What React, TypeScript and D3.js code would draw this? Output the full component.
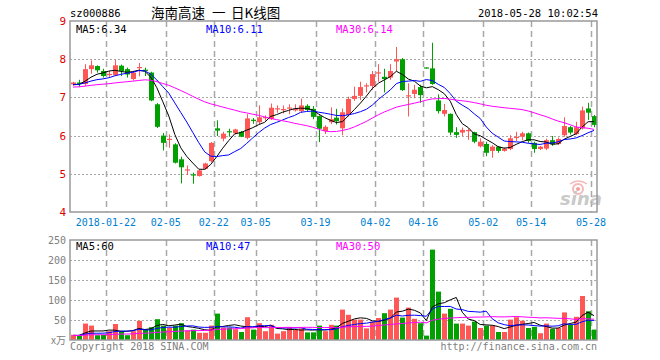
import React from "react";
import * as d3 from "d3";

const dates = [
  "01-12","01-15","01-16","01-17","01-18","01-19","01-22","01-23","01-24","01-25","01-26","01-29","01-30","01-31",
  "02-01","02-02","02-05","02-06","02-07","02-08","02-09","02-12","02-13","02-14","02-22","02-23","02-26","02-27","02-28",
  "03-01","03-02","03-05","03-06","03-07","03-08","03-09","03-12","03-13","03-14","03-15","03-16","03-19","03-20","03-21","03-22","03-23","03-26","03-27","03-28","03-29","03-30",
  "04-02","04-03","04-04","04-09","04-10","04-11","04-12","04-13","04-16","04-17","04-18","04-19","04-20","04-23","04-24","04-25","04-26","04-27",
  "05-02","05-03","05-04","05-07","05-08","05-09","05-10","05-11","05-14","05-15","05-16","05-17","05-18","05-21","05-22","05-23","05-24","05-25","05-28",
];

const open = [
  7.34,7.39,7.35,7.74,7.82,7.69,7.58,7.58,7.83,7.74,7.48,7.76,7.71,7.65,
  6.82,6.00,5.88,5.77,5.38,5.07,4.97,4.94,5.13,5.33,6.19,5.92,6.10,6.06,6.10,
  5.94,6.40,6.35,6.45,6.43,6.68,6.65,6.69,6.66,6.64,6.78,6.70,6.51,6.12,6.35,6.47,6.19,6.54,6.96,7.04,7.28,7.30,
  7.62,7.54,7.52,7.94,8.00,7.02,7.09,7.27,7.77,7.76,6.92,6.57,6.57,6.09,6.08,6.11,6.09,5.72,
  5.78,5.60,5.71,5.60,5.65,5.93,5.97,6.06,5.81,5.65,5.66,5.88,5.78,6.01,6.22,6.04,6.19,6.71,6.51,
];
const high = [
  7.41,7.46,7.87,7.97,7.84,7.75,7.69,7.98,7.86,7.78,7.69,7.90,7.78,7.67,
  6.85,6.07,6.03,5.80,5.45,5.22,5.03,5.11,5.29,5.83,6.40,6.10,6.18,6.18,6.12,
  6.56,6.46,6.79,6.53,6.84,6.79,6.79,6.82,6.82,6.97,6.82,6.77,6.53,6.27,6.74,6.70,6.71,7.02,7.28,7.41,7.37,7.69,
  7.87,7.75,7.87,8.32,8.03,7.37,7.33,7.33,7.78,8.43,7.08,6.83,6.58,6.22,6.21,6.19,6.10,5.93,
  5.84,5.75,5.73,5.69,6.01,6.10,6.10,6.08,5.84,5.73,5.92,5.99,5.95,6.48,6.25,6.36,6.76,6.86,6.54,
];
const low = [
  7.31,7.27,7.30,7.62,7.65,7.52,7.54,7.56,7.56,7.52,7.44,7.55,7.56,6.90,
  6.20,5.61,5.68,5.27,4.75,4.97,4.74,4.93,5.11,5.30,5.99,5.85,5.97,6.03,5.96,
  5.90,6.31,6.30,6.39,6.41,6.60,6.58,6.56,6.63,6.60,6.62,6.43,5.83,6.04,6.30,6.29,6.01,6.50,6.91,6.93,7.13,7.20,
  7.41,7.13,7.46,7.68,7.17,6.50,6.98,6.86,7.75,7.33,6.58,6.50,6.01,5.94,5.99,5.89,5.80,5.69,
  5.46,5.42,5.55,5.58,5.62,5.86,5.88,5.81,5.55,5.62,5.62,5.73,5.75,5.97,6.03,6.01,6.16,6.41,6.22,
];
const close = [
  7.39,7.35,7.74,7.84,7.71,7.56,7.60,7.84,7.69,7.60,7.65,7.78,7.69,6.92,
  6.23,5.81,5.90,5.29,5.17,5.10,4.95,5.09,5.27,5.81,6.13,6.05,6.08,6.16,5.97,
  6.45,6.37,6.48,6.47,6.73,6.70,6.68,6.72,6.70,6.79,6.67,6.49,6.18,6.23,6.43,6.38,6.61,6.96,7.04,7.27,7.30,7.61,
  7.64,7.48,7.69,8.00,7.19,7.04,7.20,7.06,7.76,7.35,6.64,6.67,6.08,6.02,6.15,6.13,5.84,5.84,
  5.55,5.71,5.60,5.66,5.93,5.95,6.06,5.86,5.65,5.71,5.88,5.77,5.91,6.25,6.08,6.22,6.66,6.60,6.28,
];
const volume = [
  13,11,41,36,12,13,22,40,22,12,22,48,27,32,
  52,36,31,36,42,24,26,18,18,36,66,31,31,27,20,
  57,26,42,22,38,16,22,31,26,29,19,19,36,22,38,36,76,63,51,51,29,46,
  55,67,76,106,56,81,53,42,11,226,121,66,78,41,41,36,46,30,
  36,36,20,20,51,57,48,30,33,17,41,28,30,69,38,58,110,72,26,
];
// closes / volumes of the trading days before the first visible day (for the moving averages)
const priorCloses = [
  7.15,7.18,7.22,7.20,7.17,7.21,7.24,7.19,7.16,7.20,7.23,7.20,
  7.26,7.30,7.28,7.32,7.29,7.31,7.27,7.32,
  7.33,7.37,7.36,7.34,7.35,
  7.30,7.33,7.31,7.32,
];
const priorVolumes = [
  10,12,9,11,13,10,12,11,9,10,12,14,11,10,9,12,11,13,10,11,12,10,11,13,12,10,11,12,11,
];

const tickDates = ["01-22","02-05","02-22","03-05","03-19","04-02","04-16","05-02","05-14","05-28"];
const tickLabels = ["2018-01-22","02-05","02-22","03-05","03-19","04-02","04-16","05-02","05-14","05-28"];
const priceTicks = [9, 8, 7, 6, 5, 4];
const volTicks = [250, 200, 150, 100, 50];
const maPeriods = [5, 10, 30];
const maColors = ["#000000", "#0000ff", "#ff00ff"];
const priceMaLabels = ["MA5:6.34", "MA10:6.11", "MA30:6.14"];
const volMaLabels = ["MA5:60", "MA10:47", "MA30:50"];

const RED = "#ff5656";
const GREEN = "#00a000";
const MONO = "'DejaVu Sans Mono', 'Liberation Mono', monospace";
const CJK = "'Noto Sans CJK SC', sans-serif";

function movingAvg(prior: number[], vals: number[], n: number): number[] {
  const all = prior.concat(vals);
  const off = prior.length;
  return vals.map((_, i) => d3.mean(all.slice(off + i - n + 1, off + i + 1)) as number);
}

export default function App() {
  const L = 70, R = 597;
  const mTop = 21, mBot = 212;
  const vTop = 240, vBot = 340;

  const x = d3.scaleBand<string>().domain(dates).range([L, R]).paddingInner(0).paddingOuter(0);
  const bw = x.bandwidth();
  const cx = (d: string) => (x(d) as number) + bw / 2;
  const y = d3.scaleLinear().domain([4, 9]).range([mBot, mTop]);
  const yv = d3.scaleLinear().domain([0, 250]).range([vBot, vTop]);

  const bodyW = 5;
  const candles = dates.map((d, i) => {
    const up = close[i] >= open[i];
    const col = up ? RED : GREEN;
    const c = Math.round(cx(d)) + 0.5;
    const yo = y(open[i]), yc = y(close[i]);
    const top = Math.min(yo, yc), h = Math.abs(yo - yc);
    return (
      <g key={d}>
        <line x1={c} x2={c} y1={y(high[i])} y2={y(low[i])} stroke={col} strokeWidth={1} />
        {h < 1.2 ? (
          <line x1={c - bodyW / 2} x2={c + bodyW / 2} y1={top} y2={top} stroke={col} strokeWidth={1.2} />
        ) : (
          <rect x={c - bodyW / 2} y={top} width={bodyW} height={h} fill={col} />
        )}
      </g>
    );
  });

  const volBars = dates.map((d, i) => {
    const up = close[i] >= open[i];
    const c = Math.round(cx(d)) + 0.5;
    return (
      <rect key={d} x={c - bodyW / 2} y={yv(volume[i])} width={bodyW} height={vBot - yv(volume[i])} fill={up ? RED : GREEN} />
    );
  });

  const priceMAs = maPeriods.map((n) => movingAvg(priorCloses, close, n));
  const volMAs = maPeriods.map((n) => movingAvg(priorVolumes, volume, n));
  const lineP = d3.line<number>().x((_, i) => cx(dates[i])).y((v) => y(v));
  const lineV = d3.line<number>().x((_, i) => cx(dates[i])).y((v) => yv(v));

  const gridColor = "#a8a8a8";

  return (
    <svg width={660} height={360} style={{ display: "block", position: "absolute", left: 0, top: 0, background: "#fff" }}>
      <rect x={0} y={0} width={660} height={360} fill="#fff" />
      {/* header */}
      <text x={70} y={17} fontFamily={MONO} fontSize={10.5} fill="#000">sz000886</text>
      <text x={151} y={18} fontFamily={CJK} fontSize={13.5} fill="#000">海南高速</text>
      <text x={212} y={18} fontFamily={CJK} fontSize={13.5} fill="#000">一</text>
      <text x={231} y={18} fontFamily={CJK} fontSize={13.5} fill="#000">日K线图</text>
      <text x={598} y={17} textAnchor="end" fontFamily={MONO} fontSize={10.5} fill="#000">2018-05-28 10:02:54</text>

      {/* main panel grid */}
      {[8, 7, 6, 5].map((v) => (
        <line key={v} x1={L} x2={R} y1={Math.round(y(v)) + 0.5} y2={Math.round(y(v)) + 0.5} stroke={gridColor} strokeDasharray="2,2" />
      ))}
      {tickDates.map((d) => (
        <line key={d} x1={Math.round(x(d) as number) + 0.5} x2={Math.round(x(d) as number) + 0.5} y1={mTop} y2={mBot} stroke={gridColor} strokeWidth={1.5} strokeDasharray="6,4" />
      ))}
      {/* volume panel grid */}
      {volTicks.slice(1).map((v) => (
        <line key={v} x1={L} x2={R} y1={Math.round(yv(v)) + 0.5} y2={Math.round(yv(v)) + 0.5} stroke={gridColor} strokeDasharray="2,2" />
      ))}
      {tickDates.map((d) => (
        <line key={"v" + d} x1={Math.round(x(d) as number) + 0.5} x2={Math.round(x(d) as number) + 0.5} y1={vTop} y2={vBot} stroke={gridColor} strokeWidth={1.5} strokeDasharray="6,4" />
      ))}

      {/* sina logo */}
      <g opacity={0.75}>
        <circle cx={578} cy={189} r={5} fill="none" stroke="#f3a0a0" strokeWidth={2} />
        <circle cx={578} cy={189} r={2} fill="#f08080" />
        <path d="M570,184 Q578,178 587,184" fill="none" stroke="#f3a0a0" strokeWidth={1.5} />
        <text x={581} y={205} textAnchor="middle" fontFamily="'DejaVu Sans', sans-serif" fontStyle="italic" fontWeight="bold" fontSize={18} fill="#b8b8b8">sina</text>
      </g>

      {/* candles */}
      {candles}
      {/* price MAs */}
      {priceMAs.map((arr, k) => (
        <path key={k} d={lineP(arr) as string} fill="none" stroke={maColors[k]} strokeWidth={1} />
      ))}

      {/* volume */}
      {volBars}
      {volMAs.map((arr, k) => (
        <path key={k} d={lineV(arr) as string} fill="none" stroke={maColors[k]} strokeWidth={1} />
      ))}

      {/* frames */}
      <rect x={L} y={mTop} width={R - L} height={mBot - mTop} fill="none" stroke="#999" strokeWidth={1.5} />
      <rect x={L} y={vTop} width={R - L} height={vBot - vTop} fill="none" stroke="#999" strokeWidth={1.5} />

      {/* MA labels */}
      {priceMaLabels.map((t, k) => (
        <text key={t} x={76 + k * 130} y={33} fontFamily={MONO} fontSize={10.5} fill={maColors[k]}>{t}</text>
      ))}
      {volMaLabels.map((t, k) => (
        <text key={t} x={76 + k * 130} y={250} fontFamily={MONO} fontSize={10.5} fill={maColors[k]}>{t}</text>
      ))}

      {/* price axis labels */}
      {priceTicks.map((v) => (
        <text key={v} x={66} y={y(v) + 4} textAnchor="end" fontFamily={MONO} fontSize={11} fill="#e00000">{v}</text>
      ))}
      {/* date labels */}
      {tickDates.map((d, k) => (
        <text key={d} x={x(d) as number} y={226} textAnchor="middle" fontFamily={MONO} fontSize={10} fill="#0080d0">{tickLabels[k]}</text>
      ))}
      {/* volume axis labels */}
      {volTicks.map((v) => (
        <text key={v} x={66} y={yv(v) + 4} textAnchor="end" fontFamily={MONO} fontSize={10} fill="#808080">{v}</text>
      ))}
      <text x={66} y={vBot + 4} textAnchor="end" fontFamily={CJK} fontSize={10} fill="#808080">x万</text>

      {/* footer */}
      <text x={70} y={350} fontFamily={MONO} fontSize={10} fill="#808080">Copyright 2018 SINA.COM</text>
      <text x={597} y={350} textAnchor="end" fontFamily={MONO} fontSize={10} fill="#808080">http://finance.sina.com.cn</text>
    </svg>
  );
}
